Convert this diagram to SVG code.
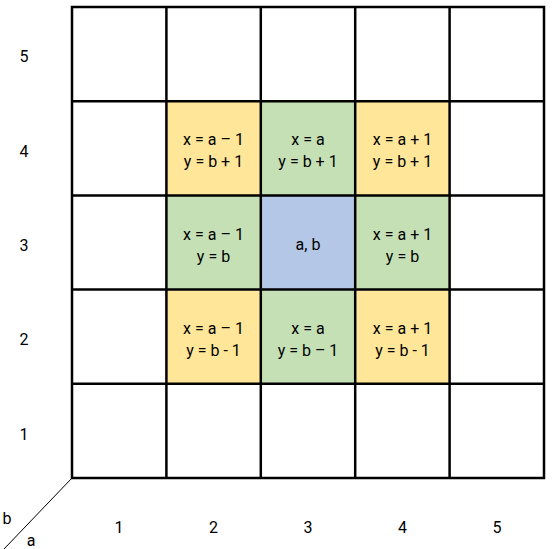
<svg xmlns="http://www.w3.org/2000/svg" width="552" height="549" viewBox="0 0 552 549">
<style>
.t{font-family:"Roboto","DejaVu Sans",sans-serif;font-size:16px;fill:#000;text-anchor:middle}
.y{fill:#FFE699}.g{fill:#C5E0B4}.b{fill:#B4C7E7}
.grid{stroke:#000;stroke-width:2.5;fill:none}
</style>
<rect width="552" height="549" fill="#fff"/>
<g id="cells">
<rect id="c24" class="y" x="167" y="102" width="93" height="93"/>
<rect id="c34" class="g" x="261.5" y="102" width="93" height="93"/>
<rect id="c44" class="y" x="356" y="102" width="93" height="93"/>
<rect id="c23" class="g" x="167" y="196" width="93" height="93"/>
<rect id="c33" class="b" x="261.5" y="196" width="93" height="93"/>
<rect id="c43" class="g" x="356" y="196" width="93" height="93"/>
<rect id="c22" class="y" x="167" y="290.5" width="93" height="93"/>
<rect id="c32" class="g" x="261.5" y="290.5" width="93" height="93"/>
<rect id="c42" class="y" x="356" y="290.5" width="93" height="93"/>
</g>
<g id="connectors">
<path class="grid" d="M72 7H544V478H72Z M166.4 7V478 M260.8 7V478 M355.2 7V478 M449.6 7V478 M72 101.2H544 M72 195.4H544 M72 289.6H544 M72 383.8H544"/>
<line x1="72" y1="478" x2="4" y2="549" stroke="#000" stroke-width="1"/>
</g>
<g id="texts">
<text class="t" x="213.5" y="145">x = a – 1</text><text class="t" x="213.5" y="167">y = b + 1</text>
<text class="t" x="308" y="145">x = a</text><text class="t" x="308" y="167">y = b + 1</text>
<text class="t" x="402.5" y="145">x = a + 1</text><text class="t" x="402.5" y="167">y = b + 1</text>
<text class="t" x="213.5" y="240">x = a – 1</text><text class="t" x="213.5" y="262">y = b</text>
<text class="t" x="308" y="250">a, b</text>
<text class="t" x="402.5" y="240">x = a + 1</text><text class="t" x="402.5" y="262">y = b</text>
<text class="t" x="213.5" y="334">x = a – 1</text><text class="t" x="213.5" y="356">y = b - 1</text>
<text class="t" x="308" y="334">x = a</text><text class="t" x="308" y="356">y = b – 1</text>
<text class="t" x="402.5" y="334">x = a + 1</text><text class="t" x="402.5" y="356">y = b - 1</text>
<text class="t" x="24" y="62">5</text>
<text class="t" x="24" y="157">4</text>
<text class="t" x="24" y="251">3</text>
<text class="t" x="24" y="345">2</text>
<text class="t" x="24" y="440">1</text>
<text class="t" x="119" y="533">1</text>
<text class="t" x="213.5" y="533">2</text>
<text class="t" x="308" y="533">3</text>
<text class="t" x="402.5" y="533">4</text>
<text class="t" x="497" y="533">5</text>
<text class="t" x="7" y="524">b</text>
<text class="t" x="31" y="546">a</text>
</g>
</svg>
